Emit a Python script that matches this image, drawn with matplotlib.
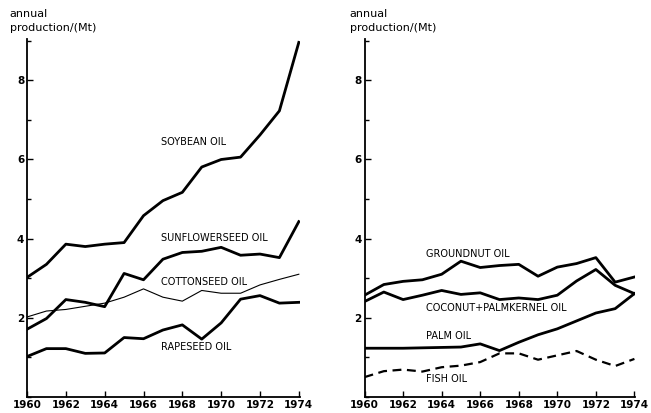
import numpy as np
import matplotlib
matplotlib.use('Agg')
import matplotlib.pyplot as plt
from matplotlib.ticker import MultipleLocator

years = np.arange(1960, 1975)

# left panel
soybean = [3.02, 3.35, 3.86, 3.80, 3.86, 3.90, 4.58, 4.96, 5.17, 5.81, 6.00, 6.06, 6.62, 7.23, 8.96]
sunflower = [1.71, 1.98, 2.46, 2.39, 2.28, 3.12, 2.96, 3.48, 3.65, 3.68, 3.78, 3.58, 3.61, 3.52, 4.43]
cottonseed = [2.02, 2.17, 2.21, 2.29, 2.37, 2.52, 2.73, 2.52, 2.42, 2.69, 2.62, 2.62, 2.83, 2.97, 3.10]
rapeseed = [1.02, 1.22, 1.22, 1.10, 1.11, 1.50, 1.47, 1.69, 1.82, 1.46, 1.87, 2.47, 2.56, 2.37, 2.39]

# right panel
groundnut = [2.57, 2.84, 2.92, 2.96, 3.10, 3.43, 3.27, 3.32, 3.35, 3.05, 3.28, 3.37, 3.52, 2.90, 3.03]
coconut = [2.41, 2.65, 2.46, 2.57, 2.69, 2.59, 2.63, 2.46, 2.50, 2.46, 2.57, 2.93, 3.22, 2.82, 2.61]
palm = [1.23, 1.23, 1.23, 1.24, 1.25, 1.26, 1.34, 1.17, 1.38, 1.57, 1.72, 1.92, 2.12, 2.23, 2.61]
fish = [0.50, 0.65, 0.69, 0.64, 0.75, 0.79, 0.88, 1.10, 1.10, 0.94, 1.05, 1.16, 0.94, 0.78, 0.96]

plt.rcParams['font.family'] = ['DejaVu Sans']

fig = plt.figure(figsize=(6.51, 4.13), dpi=100)
ax1 = fig.add_axes([0.0415, 0.039, 0.419, 0.867])
ax2 = fig.add_axes([0.560, 0.039, 0.416, 0.867])

thick = dict(color='black', lw=2.0, solid_joinstyle='round')
ax1.plot(years, soybean, **thick)
ax1.plot(years, sunflower, **thick)
ax1.plot(years, cottonseed, color='black', lw=0.8)
ax1.plot(years, rapeseed, **thick)

ax2.plot(years, groundnut, **thick)
ax2.plot(years, coconut, **thick)
ax2.plot(years, palm, **thick)
ax2.plot(years, fish, color='black', lw=1.6, ls=(0, (4, 2.5)))

lab = dict(fontsize=7, ha='left', va='center')
ax1.text(1966.9, 6.43, 'SOYBEAN OIL', **lab)
ax1.text(1966.9, 4.02, 'SUNFLOWERSEED OIL', **lab)
ax1.text(1966.9, 2.90, 'COTTONSEED OIL', **lab)
ax1.text(1966.9, 1.27, 'RAPESEED OIL', **lab)

ax2.text(1963.2, 3.62, 'GROUNDNUT OIL', **lab)
ax2.text(1963.2, 2.25, 'COCONUT+PALMKERNEL OIL', **lab)
ax2.text(1963.2, 1.53, 'PALM OIL', **lab)
ax2.text(1963.2, 0.46, 'FISH OIL', **lab)

for ax in (ax1, ax2):
    ax.set_xlim(1960, 1974.05)
    ax.set_ylim(0, 9.05)
    ax.spines['top'].set_visible(False)
    ax.spines['right'].set_visible(False)
    ax.spines['left'].set_linewidth(1.3)
    ax.spines['bottom'].set_linewidth(1.3)
    ax.set_xticks(np.arange(1960, 1975, 2))
    ax.set_yticks([2, 4, 6, 8])
    ax.yaxis.set_minor_locator(MultipleLocator(1))
    ax.tick_params(axis='both', which='major', direction='in', length=4, width=1,
                   labelsize=7.5, pad=2)
    ax.tick_params(axis='y', which='minor', direction='in', length=3, width=1)
    for t in ax.get_xticklabels() + ax.get_yticklabels():
        t.set_fontweight('bold')
    ax.set_facecolor('none')

# y axis titles sit above each panel
for x0 in (0.015, 0.537):
    fig.text(x0, 0.965, 'annual', fontsize=8, ha='left', va='center')
    fig.text(x0, 0.933, 'production/(Mt)', fontsize=8, ha='left', va='center')

fig.savefig('out.png', dpi=100)
